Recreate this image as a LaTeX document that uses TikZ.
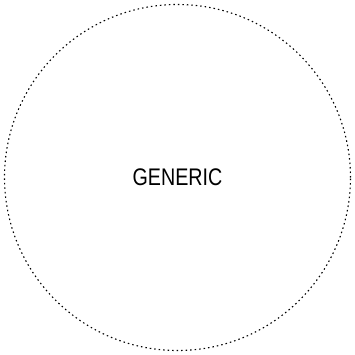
\documentclass[tikz,border=0pt]{standalone}
\usepackage{fontspec}
\setmainfont{Liberation Sans}
\newfontfamily\narrowfont[FakeStretch=0.82]{Liberation Sans}

\begin{document}
\begin{tikzpicture}[x=1pt, y=-1pt,
		ring/.style={circle, draw=black, line width=1.1pt, dash pattern=on 1.5pt off 3pt, minimum size=346pt, inner sep=0pt},
		label/.style={font=\narrowfont\fontsize{24}{26}\selectfont, inner sep=0pt}]
	
	% --- frame ---
	\useasboundingbox (0,0) rectangle (354,355);
	
	% --- circle with its name ---
	\node[ring] (generic) at (177.5,177.5) {};
	\node[label] (name) at (generic.center) {GENERIC};
	
\end{tikzpicture}
\end{document}
